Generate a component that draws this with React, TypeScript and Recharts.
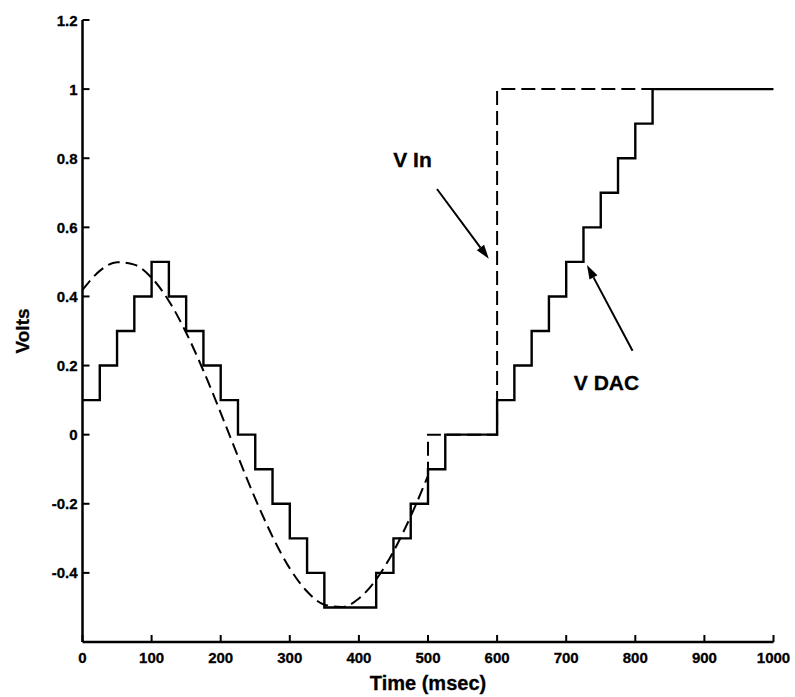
import { LineChart, Line, XAxis, YAxis, ReferenceLine, ReferenceDot } from 'recharts';

// Input voltage, sampled every 25 ms while it is still sinusoidal
const vinTimes = [0, 25, 50, 75, 100, 125, 150, 175, 200, 225, 250, 275, 300, 325, 350, 375, 400, 425, 450, 475, 500];
const vinValues = [0.419, 0.474, 0.499, 0.492, 0.454, 0.387, 0.295, 0.185, 0.063, -0.063, -0.185, -0.295, -0.387, -0.454, -0.492, -0.499, -0.474, -0.419, -0.338, -0.236, -0.119];

// Input steps: jumps to 0 at 500 ms, then to 1 V at 600 ms
const vinStepTimes = [500, 500, 600, 600, 1000];
const vinStepValues = [-0.119, 0, 0, 1, 1];

// DAC output, one level per 25 ms clock
const dacTimes = [0, 25, 50, 75, 100, 125, 150, 175, 200, 225, 250, 275, 300, 325, 350, 375, 400, 425, 450, 475, 500, 525, 550, 575, 600, 625, 650, 675, 700, 725, 750, 775, 800, 825, 1000];
const dacValues = [0.1, 0.2, 0.3, 0.4, 0.5, 0.4, 0.3, 0.2, 0.1, 0, -0.1, -0.2, -0.3, -0.4, -0.5, -0.5, -0.5, -0.4, -0.3, -0.2, -0.1, 0, 0, 0, 0.1, 0.2, 0.3, 0.4, 0.5, 0.6, 0.7, 0.8, 0.9, 1, 1];

const xTicks = [0, 100, 200, 300, 400, 500, 600, 700, 800, 900, 1000];
const yTicks = [-0.4, -0.2, 0, 0.2, 0.4, 0.6, 0.8, 1, 1.2];

const vinData = vinTimes.map((t, i) => ({ t, v: vinValues[i] }));
const vinStepData = vinStepTimes.map((t, i) => ({ t, v: vinStepValues[i] }));
const dacData = dacTimes.map((t, i) => ({ t, v: dacValues[i] }));

const FONT = 'Liberation Sans, Arial, Helvetica, sans-serif';
const TICK = 7;

const tickText = { fontFamily: FONT, fontWeight: 700, fontSize: 15, fill: '#000', stroke: '#000', strokeWidth: 0.3 };

function LeftTick({ x, y, payload }: any) {
  return (
    <g>
      <line x1={x} y1={y} x2={x + TICK} y2={y} stroke="#000" strokeWidth={2} />
      <text x={x - 5} y={y} textAnchor="end" dominantBaseline="central" {...tickText}>
        {String(payload.value)}
      </text>
    </g>
  );
}

function RightTick({ x, y }: any) {
  return <line x1={x} y1={y} x2={x - TICK} y2={y} stroke="#000" strokeWidth={2} />;
}

function BottomTick({ x, y, payload }: any) {
  return (
    <g>
      <line x1={x} y1={y} x2={x} y2={y - TICK} stroke="#000" strokeWidth={2} />
      <text x={x} y={y + 15} textAnchor="middle" dominantBaseline="central" {...tickText}>
        {String(payload.value)}
      </text>
    </g>
  );
}

function TopTick({ x, y }: any) {
  return <line x1={x} y1={y} x2={x} y2={y + TICK} stroke="#000" strokeWidth={2} />;
}

// annotation arrow with a filled head at the second point
function Arrow({ x1, y1, x2, y2 }: any) {
  const a = Math.atan2(y2 - y1, x2 - x1);
  const len = 14;
  const half = 4.5;
  const bx = x2 - len * Math.cos(a);
  const by = y2 - len * Math.sin(a);
  const px = -Math.sin(a) * half;
  const py = Math.cos(a) * half;
  return (
    <g>
      <line x1={x1} y1={y1} x2={bx} y2={by} stroke="#000" strokeWidth={2} />
      <polygon points={`${x2},${y2} ${bx + px},${by + py} ${bx - px},${by - py}`} fill="#000" />
    </g>
  );
}

const noteLabel = (text: string) => (p: any) => (
  <text x={p.cx} y={p.cy} textAnchor="middle" dominantBaseline="central" fontFamily={FONT} fontWeight={700} fontSize={21} fill="#000" stroke="#000" strokeWidth={0.3}>
    {text}
  </text>
);

const axisLine = { stroke: '#000', strokeWidth: 2.5 };
const titleStyle = { fontFamily: FONT, fontWeight: 700, fill: '#000', stroke: '#000', strokeWidth: 0.3 };

export default function App() {
  return (
    <div style={{ position: 'absolute', left: 0, top: 0, background: '#fff' }}>
      <LineChart width={795} height={697} margin={{ top: 20, right: 21.5, bottom: 0, left: 0 }}>
        <XAxis
          dataKey="t"
          type="number"
          domain={[0, 1000]}
          ticks={xTicks}
          allowDataOverflow
          height={55}
          tickSize={0}
          tickMargin={0}
          tickLine={false}
          axisLine={axisLine}
          tick={<BottomTick />}
          interval={0}
          label={{ value: 'Time (msec)', position: 'insideBottom', offset: 7, style: { ...titleStyle, fontSize: 20 } }}
        />
        <XAxis
          xAxisId="top"
          orientation="top"
          dataKey="t"
          type="number"
          domain={[0, 1000]}
          ticks={xTicks.slice(1, -1)}
          allowDataOverflow
          height={0}
          tickSize={0}
          tickMargin={0}
          tickLine={false}
          axisLine={axisLine}
          tick={<TopTick />}
          interval={0}
        />
        <YAxis
          type="number"
          domain={[-0.6, 1.2]}
          ticks={yTicks}
          allowDataOverflow
          width={82.5}
          tickSize={0}
          tickMargin={0}
          tickLine={false}
          axisLine={axisLine}
          tick={<LeftTick />}
          interval={0}
          label={{ value: 'Volts', angle: -90, position: 'insideLeft', offset: 22, style: { ...titleStyle, textAnchor: 'middle', fontSize: 19 } }}
        />
        <YAxis
          yAxisId="right"
          orientation="right"
          type="number"
          domain={[-0.6, 1.2]}
          ticks={yTicks.slice(0, -1)}
          allowDataOverflow
          width={0}
          tickSize={0}
          tickMargin={0}
          tickLine={false}
          axisLine={axisLine}
          tick={<RightTick />}
          interval={0}
        />

        <Line data={vinData} dataKey="v" type="monotone" stroke="#000" strokeWidth={2} strokeDasharray="12 6" dot={false} activeDot={false} isAnimationActive={false} />
        <Line data={vinStepData} dataKey="v" type="linear" stroke="#000" strokeWidth={2} strokeDasharray="14 6" dot={false} activeDot={false} isAnimationActive={false} />
        <Line data={dacData} dataKey="v" type="stepAfter" stroke="#000" strokeWidth={2.4} dot={false} activeDot={false} isAnimationActive={false} />

        <ReferenceLine segment={[{ x: 513, y: 0.711 }, { x: 588, y: 0.509 }]} shape={<Arrow />} />
        <ReferenceLine segment={[{ x: 796, y: 0.243 }, { x: 730, y: 0.491 }]} shape={<Arrow />} />
        <ReferenceDot x={477.6} y={0.795} r={1} shape={noteLabel('V In')} />
        <ReferenceDot x={758.3} y={0.15} r={1} shape={noteLabel('V DAC')} />
      </LineChart>
    </div>
  );
}
